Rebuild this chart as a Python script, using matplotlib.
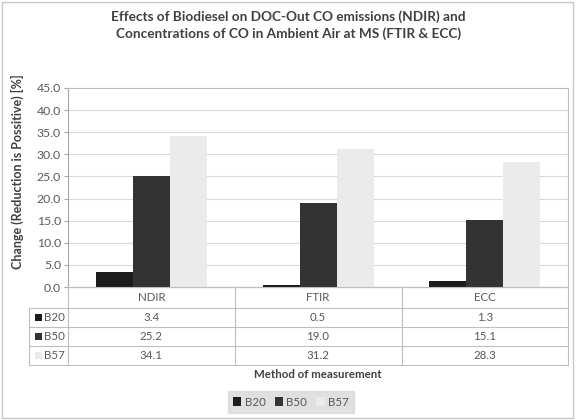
import matplotlib
matplotlib.use("Agg")
import matplotlib.pyplot as plt
from matplotlib.patches import Rectangle
from matplotlib.lines import Line2D
import matplotlib.transforms as mtransforms
import numpy as np

categories = ["NDIR", "FTIR", "ECC"]
series_names = ["B20", "B50", "B57"]
b20 = [3.4, 0.5, 1.3]
b50 = [25.2, 19.0, 15.1]
b57 = [34.1, 31.2, 28.3]
series_values = [b20, b50, b57]
colors = ["#1c1c1c", "#333333", "#ebebeb"]
yticks = [0, 5, 10, 15, 20, 25, 30, 35, 40, 45]

plt.rcParams['font.family'] = ['Lato', 'DejaVu Sans']

W, H = 577, 420
fig = plt.figure(figsize=(W / 100, H / 100), dpi=100)

def fx(px):
    return px / W

def fy(py):
    return 1 - py / H

# Figure border
fig.patches.append(Rectangle((fx(2), fy(418)), fx(571), (416) / H, transform=fig.transFigure,
                             fill=False, edgecolor="#c8c8c8", linewidth=1))

L, R, T, B = 68, 568, 88, 287
ax = fig.add_axes([fx(L), fy(B), fx(R - L), (B - T) / H])

x = np.arange(len(categories))
bw = 0.222
for i, (vals, col, name) in enumerate(zip(series_values, colors, series_names)):
    ax.bar(x + (i - 1) * bw, vals, width=bw, color=col, label=name, zorder=3)

ax.set_xlim(-0.5, len(categories) - 0.5)
ax.set_ylim(0, 45)
ax.set_yticks(yticks)
ax.set_yticklabels([f"{v:.1f}" for v in yticks], fontsize=8.8, color="#595959")
ax.set_xticks([])
ax.grid(axis="y", color="#d9d9d9", linewidth=0.8, zorder=0)
for s in ["top", "right"]:
    ax.spines[s].set_color("#bfbfbf")
ax.spines["left"].set_color("#a6a6a6")
ax.spines["bottom"].set_color("#a6a6a6")
ax.tick_params(axis="y", length=3, color="#a6a6a6", pad=2)

ax.set_ylabel("Change (Reduction is Possitive) [%]", fontsize=9, fontweight="bold",
              color="#404040", labelpad=2)
ax.yaxis.set_label_coords(-0.088, 0.58)

# Title
fig.text(0.5, fy(10), "Effects of Biodiesel on DOC-Out CO emissions (NDIR) and\n"
         "Concentrations of CO in Ambient Air at MS (FTIR & ECC)",
         ha="center", va="top", fontsize=9.8, fontweight="bold", color="#404040",
         linespacing=1.4)

# Data table
grid_col = "#bfbfbf"
row_tops = [287, 308, 327, 346, 365]
tf = fig.transFigure
lines = []
lines.append(((L, R), (row_tops[0], row_tops[0])))
for yy in row_tops[1:]:
    lines.append(((29, R), (yy, yy)))
lines.append(((29, 29), (row_tops[1], row_tops[-1])))
for xx in [L, 235, 402, R]:
    lines.append(((xx, xx), (row_tops[0], row_tops[-1])))
for (xs, ys) in lines:
    fig.lines.append(Line2D([fx(v) for v in xs], [fy(v) for v in ys], transform=tf,
                            color=grid_col, linewidth=0.8))

blend = mtransforms.blended_transform_factory(ax.transData, fig.transFigure)
for j, cat in enumerate(categories):
    ymid = (row_tops[0] + row_tops[1]) / 2
    fig.text(x[j], fy(ymid), cat, transform=blend, ha="center", va="center",
             fontsize=8.3, color="#595959")
    for i, vals in enumerate(series_values):
        ymid = (row_tops[i + 1] + row_tops[i + 2]) / 2
        fig.text(x[j], fy(ymid), f"{vals[j]:.1f}", transform=blend, ha="center",
                 va="center", fontsize=8.3, color="#595959")

for i, (name, col) in enumerate(zip(series_names, colors)):
    ymid = (row_tops[i + 1] + row_tops[i + 2]) / 2
    fig.patches.append(Rectangle((fx(35), fy(ymid + 3.5)), fx(7), 7 / H, transform=tf,
                                 facecolor=col, edgecolor="none"))
    fig.text(fx(44), fy(ymid), name, ha="left", va="center", fontsize=8.3, color="#595959")

fig.text(fx(318), fy(375), "Method of measurement", ha="center", va="center",
         fontsize=8.3, fontweight="bold", color="#404040")

# Legend
handles = [Rectangle((0, 0), 1, 1, facecolor=c, edgecolor="none") for c in colors]
leg = fig.legend(handles, series_names, loc="center", bbox_to_anchor=(fx(291), fy(402)),
                 ncol=3, frameon=True, fontsize=8.3, handlelength=0.7, handleheight=0.7,
                 handletextpad=0.3, columnspacing=0.8, borderpad=0.45, fancybox=False)
leg.get_frame().set_facecolor("#d9d9d9")
leg.get_frame().set_edgecolor("#d9d9d9")
for t in leg.get_texts():
    t.set_color("#595959")

fig.savefig("out.png", dpi=100)
